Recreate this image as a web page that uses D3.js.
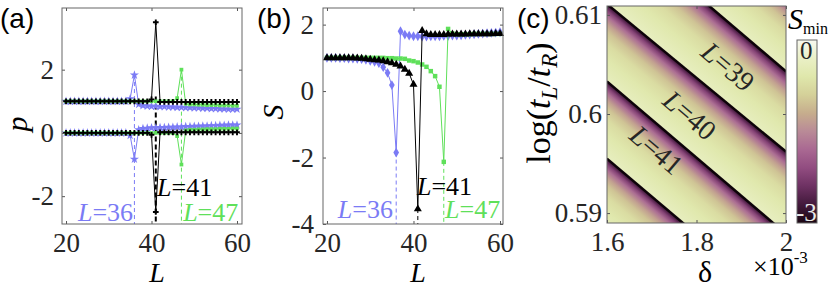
<!DOCTYPE html>
<html>
<head>
<meta charset="utf-8">
<script src="https://cdn.jsdelivr.net/npm/d3@7"></script>
<style>
  body { margin: 0; background: #fff; }
  svg { display: block; }
  .serif { font-family: "Liberation Serif", serif; }
  .sans { font-family: "Liberation Sans", Arial, sans-serif; }
</style>
</head>
<body>
<svg id="fig" width="830" height="290"></svg>
<script>
// ---- data -------------------------------------------------------------
const Ls = [20,21,22,23,24,25,26,27,28,29,30,31,32,33,34,35,36,37,38,39,40,
            41,42,43,44,45,46,47,48,49,50,51,52,53,54,55,56,57,58,59,60];

// (a) p values, two branches per cut length
const pHi36 = [1,1,1,1,1,1,1,1,1,1,1,1,1,1,1,1.08,1.83,0.9,0.86,0.85,0.84,
               0.84,0.83,0.83,0.82,0.82,0.81,0.81,0.8,0.8,0.79,0.79,0.78,0.78,0.77,0.77,0.76,0.76,0.75,0.75,0.75];
const pLo36 = [0,0,0,0,0,0,0,0,0,0,0,0,0,0,0,-0.08,-0.83,0.1,0.14,0.15,0.16,
               0.16,0.17,0.17,0.18,0.18,0.19,0.19,0.2,0.2,0.21,0.21,0.22,0.22,0.23,0.23,0.24,0.24,0.25,0.25,0.25];
const pHi41 = [1,1,1,1,1,1,1,1,1,1,1,1,1,1,1,1,1,1,1,1,1.06,
               3.5,0.98,0.98,0.98,0.98,0.98,0.98,0.98,0.98,0.98,0.98,0.98,0.98,0.98,0.98,0.98,0.98,0.98,0.98,0.98];
const pLo41 = [0,0,0,0,0,0,0,0,0,0,0,0,0,0,0,0,0,0,0,0,-0.06,
               -2.5,0.02,0.02,0.02,0.02,0.02,0.02,0.02,0.02,0.02,0.02,0.02,0.02,0.02,0.02,0.02,0.02,0.02,0.02,0.02];
const pHi47 = [1,1,1,1,1,1,1,1,1,1,1,1,1,1,1,1,1,1,1,1,1,
               1,1,1,1,1,1.1,2.0,0.92,0.9,0.9,0.89,0.89,0.88,0.88,0.88,0.87,0.87,0.87,0.86,0.86];
const pLo47 = [0,0,0,0,0,0,0,0,0,0,0,0,0,0,0,0,0,0,0,0,0,
               0,0,0,0,0,-0.1,-1.0,0.08,0.1,0.1,0.11,0.11,0.12,0.12,0.12,0.13,0.13,0.13,0.14,0.14];

// (b) entanglement S
const S36 = [1,1,1,0.99,0.99,0.98,0.98,0.97,0.96,0.94,0.91,0.88,0.84,0.72,0.55,0.18,-1.85,1.8,1.7,1.67,1.65,
             1.65,1.64,1.64,1.65,1.65,1.65,1.66,1.66,1.67,1.67,1.68,1.69,1.7,1.71,1.72,1.73,1.74,1.75,1.76,1.77];
const S41 = [1,1,1,1,1,1,1,0.99,0.98,0.97,0.95,0.94,0.93,0.91,0.88,0.85,0.8,0.75,0.65,0.53,0.2,
             -3.55,1.82,1.72,1.7,1.7,1.7,1.7,1.71,1.71,1.71,1.71,1.71,1.72,1.72,1.72,1.72,1.72,1.72,1.73,1.73];
const S47 = [1,1,1,1,1,1,1,1,1,1,1,1,1,1,0.99,0.99,0.98,0.98,0.97,0.92,0.9,
             0.86,0.8,0.73,0.6,0.45,0.13,-2.13,1.87,1.73,1.71,1.71,1.71,1.71,1.72,1.72,1.72,1.72,1.72,1.72,1.72];

const cuts = [36, 41, 47];
const cutTopA = [1.83, 1.15, 2.0];
const cutTopB = [-1.85, -3.55, -2.13];
const cutColor = ['#7b7bf5', '#000000', '#5fe05a'];
const labA = [[22.8, -2.8], [41.3, -2.0], [47.4, -2.8]];
const labB = [[22.5, -3.82], [40.8, -3.13], [47.3, -3.82]];

// (c) boundaries of the S_min map: log(tL/tR) at delta = 1.6e-3 and 2.0e-3
const bnd16 = [0.6275, 0.6197, 0.6111, 0.6033, 0.5955, 0.5878];
const bnd20 = [0.6121, 0.6043, 0.5962, 0.5879, 0.5802, 0.5725];
// S_min profile across one band (0 = just below a jump line)
const bandT = [0, 0.03, 0.08, 0.15, 0.25, 0.35, 0.5, 0.7, 1];
const bandS = [-3, -2.6, -2.2, -1.75, -1.3, -1.0, -0.75, -0.58, -0.38];
const labC = [['39', 1.871, 0.6048], ['40', 1.7855, 0.5999], ['41', 1.711, 0.5964]];

// colormap
const cmapV = [0, -0.3, -0.6, -0.9, -1.2, -1.5, -1.8, -2.1, -2.4, -2.7, -3];
const cmapC = ['#f8f9f0','#eaf0c6','#dfe7ab','#d4d099','#c6ad8d','#b98a97',
               '#a96892','#914c80','#6d3162','#42193b','#1b0713'];

// ---- drawing ----------------------------------------------------------
const svg = d3.select('#fig');
const defs = svg.append('defs');
const cmap = d3.scaleLinear().domain(cmapV).range(cmapC);
const fmt = d => String(d);

const styleAxis = sel => {
  sel.attr('font-family', null).attr('font-size', null);
  sel.select('.domain').remove();
  sel.selectAll('.tick line').attr('stroke', '#555');
  sel.selectAll('.tick text')
    .attr('font-family', '"Liberation Serif", serif')
    .attr('font-size', 27).attr('fill', '#262626');
};

const boxAxes = (x, y, xt, yt, padY) => {
  const [x0, x1] = x.range(), [y0, y1] = y.range();
  const g = svg.append('g');
  g.append('g').attr('transform', `translate(0,${y0})`)
    .call(d3.axisBottom(x).tickValues(xt).tickSize(-3).tickPadding(9).tickFormat(fmt))
    .call(styleAxis);
  g.append('g').attr('transform', `translate(0,${y1})`)
    .call(d3.axisTop(x).tickValues(xt).tickSize(-3).tickFormat(''))
    .call(styleAxis);
  g.append('g').attr('transform', `translate(${x0},0)`)
    .call(d3.axisLeft(y).tickValues(yt).tickSize(-3).tickPadding(padY).tickFormat(fmt))
    .call(styleAxis);
  g.append('g').attr('transform', `translate(${x1},0)`)
    .call(d3.axisRight(y).tickValues(yt).tickSize(-3).tickFormat(''))
    .call(styleAxis);
  g.append('rect')
    .attr('x', x0).attr('y', y1).attr('width', x1 - x0).attr('height', y0 - y1)
    .attr('fill', 'none').attr('stroke', '#666').attr('stroke-width', 1);
  return g;
};

const lLabel = (g, x, y, num, color, size = 26) => {
  const t = g.append('text').attr('class', 'serif').attr('x', x).attr('y', y)
    .attr('font-size', size).attr('fill', color);
  t.append('tspan').attr('font-style', 'italic').text('L');
  t.append('tspan').text('=' + num);
  return t;
};

const series = (g, x, y, vals, color, sym, size) => {
  const pts = Ls.map((L, i) => [x(L), y(vals[i])]);
  g.append('path').attr('d', d3.line()(pts))
    .attr('fill', 'none').attr('stroke', color).attr('stroke-width', 1);
  g.selectAll(null).data(pts).enter().append('path')
    .attr('transform', d => `translate(${d[0]},${d[1]})`)
    .attr('d', d3.symbol().type(sym).size(size))
    .attr('fill', color);
};

// ---------- panel (a)
const xA = d3.scaleLinear().domain([19.06, 61.17]).range([62, 242]);
const yA = d3.scaleLinear().domain([-2.88, 3.95]).range([224, 8]);
const gA = svg.append('g');
cuts.forEach((c, i) => {
  gA.append('line')
    .attr('x1', xA(c)).attr('x2', xA(c)).attr('y1', yA(cutTopA[i])).attr('y2', yA(-2.88))
    .attr('stroke', cutColor[i]).attr('stroke-width', i === 1 ? 2 : 1)
    .attr('stroke-dasharray', i === 1 ? '5,3' : '4,3');
});
series(gA, xA, yA, pHi36, cutColor[0], d3.symbolStar, 26);
series(gA, xA, yA, pLo36, cutColor[0], d3.symbolStar, 26);
series(gA, xA, yA, pHi47, cutColor[2], d3.symbolSquare, 14);
series(gA, xA, yA, pLo47, cutColor[2], d3.symbolSquare, 14);
series(gA, xA, yA, pHi41, '#000', d3.symbolCross, 18);
series(gA, xA, yA, pLo41, '#000', d3.symbolCross, 18);
boxAxes(xA, yA, [20, 40, 60], [-2, 0, 2], 8);
cuts.forEach((c, i) => lLabel(gA, xA(labA[i][0]), yA(labA[i][1]), c, cutColor[i]));
svg.append('text').attr('class', 'sans').attr('x', 0).attr('y', 28).attr('font-size', 28).text('(a)');
svg.append('text').attr('class', 'serif').attr('font-style', 'italic').attr('font-size', 30)
  .attr('transform', 'translate(27,124) rotate(-90)').attr('text-anchor', 'middle').text('p');
svg.append('text').attr('class', 'serif').attr('font-style', 'italic').attr('font-size', 28)
  .attr('x', 157).attr('y', 282).attr('text-anchor', 'middle').text('L');

// ---------- panel (b)
const xB = d3.scaleLinear().domain([19.08, 60.69]).range([323, 503]);
const yB = d3.scaleLinear().domain([-4, 2.5]).range([224, 8]);
const gB = svg.append('g');
cuts.forEach((c, i) => {
  gB.append('line')
    .attr('x1', xB(c)).attr('x2', xB(c)).attr('y1', yB(cutTopB[i])).attr('y2', yB(-4))
    .attr('stroke', cutColor[i]).attr('stroke-width', 1).attr('stroke-dasharray', '4,3');
});
series(gB, xB, yB, S36, cutColor[0], d3.symbolDiamond, 28);
series(gB, xB, yB, S47, cutColor[2], d3.symbolSquare, 20);
series(gB, xB, yB, S41, '#000', d3.symbolTriangle, 28);
boxAxes(xB, yB, [20, 40, 60], [-4, -2, 0, 2], 9);
cuts.forEach((c, i) => lLabel(gB, xB(labB[i][0]), yB(labB[i][1]), c, cutColor[i]));
svg.append('text').attr('class', 'sans').attr('x', 257).attr('y', 28).attr('font-size', 28).text('(b)');
svg.append('text').attr('class', 'serif').attr('font-style', 'italic').attr('font-size', 30)
  .attr('transform', 'translate(283,112) rotate(-90)').attr('text-anchor', 'middle').text('S');
svg.append('text').attr('class', 'serif').attr('font-style', 'italic').attr('font-size', 28)
  .attr('x', 418).attr('y', 282).attr('text-anchor', 'middle').text('L');

// ---------- panel (c)
const xC = d3.scaleLinear().domain([1.6, 2.0]).range([607, 786]);
const yC = d3.scaleLinear().domain([0.589, 0.6109]).range([223, 6]);
defs.append('clipPath').attr('id', 'clipC').append('rect')
  .attr('x', 607).attr('y', 6).attr('width', 179).attr('height', 217);
const gC = svg.append('g').attr('clip-path', 'url(#clipC)');

bnd16.slice(0, -1).forEach((u16, k) => {
  const l16 = bnd16[k + 1], u20 = bnd20[k], l20 = bnd20[k + 1];
  const dx = xC(2.0) - xC(1.6), dy = yC(u20) - yC(u16);
  const len = Math.hypot(dx, dy);
  const n = [-dy / len, dx / len];
  const m = [(xC(1.6) + xC(2.0)) / 2, (yC(u16) + yC(u20)) / 2];
  const q = [m[0], (yC(l16) + yC(l20)) / 2];
  const dist = (q[0] - m[0]) * n[0] + (q[1] - m[1]) * n[1];
  const gr = defs.append('linearGradient').attr('id', 'band' + k)
    .attr('gradientUnits', 'userSpaceOnUse')
    .attr('x1', m[0]).attr('y1', m[1])
    .attr('x2', m[0] + n[0] * dist).attr('y2', m[1] + n[1] * dist);
  bandT.forEach((t, j) => gr.append('stop').attr('offset', t).attr('stop-color', cmap(bandS[j])));
  gC.append('path')
    .attr('d', d3.line()([[xC(1.6), yC(u16)], [xC(2.0), yC(u20)], [xC(2.0), yC(l20)], [xC(1.6), yC(l16)]]))
    .attr('fill', `url(#band${k})`).attr('stroke', `url(#band${k})`).attr('stroke-width', 0.5);
});
bnd16.forEach((b, k) => {
  gC.append('line')
    .attr('x1', xC(1.6)).attr('y1', yC(b)).attr('x2', xC(2.0)).attr('y2', yC(bnd20[k]))
    .attr('stroke', '#0d0309').attr('stroke-width', 2.4);
});
const ang = Math.atan2(yC(bnd20[1]) - yC(bnd16[1]), xC(2.0) - xC(1.6)) * 180 / Math.PI;
labC.forEach(d => {
  lLabel(svg, 0, 0, d[0], '#262626', 28)
    .attr('text-anchor', 'middle').attr('dy', '0.35em')
    .attr('transform', `translate(${xC(d[1])},${yC(d[2])}) rotate(${ang})`);
});
boxAxes(xC, yC, [1.6, 1.8, 2.0], [0.59, 0.6, 0.61], 5);
svg.append('text').attr('class', 'sans').attr('x', 517).attr('y', 28).attr('font-size', 28).text('(c)');
const yl = svg.append('text').attr('class', 'serif').attr('font-size', 34)
  .attr('transform', 'translate(550,103) rotate(-90)').attr('text-anchor', 'middle');
yl.append('tspan').text('log(');
yl.append('tspan').attr('font-style', 'italic').text('t');
yl.append('tspan').attr('font-style', 'italic').attr('font-size', 23).attr('dy', 7).text('L');
yl.append('tspan').attr('dy', -7).text('/');
yl.append('tspan').attr('font-style', 'italic').text('t');
yl.append('tspan').attr('font-style', 'italic').attr('font-size', 23).attr('dy', 7).text('R');
yl.append('tspan').attr('dy', -7).text(')');
svg.append('text').attr('class', 'serif').attr('font-size', 30)
  .attr('x', 705).attr('y', 282).attr('text-anchor', 'middle').text('δ');
const ex = svg.append('text').attr('class', 'serif').attr('font-size', 26).attr('x', 753).attr('y', 275);
ex.append('tspan').text('×10');
ex.append('tspan').attr('font-size', 17).attr('dy', -12).text('-3');

// colorbar
const yCb = d3.scaleLinear().domain([0, -3]).range([40, 223]);
const cg = defs.append('linearGradient').attr('id', 'cbar')
  .attr('x1', 0).attr('y1', 0).attr('x2', 0).attr('y2', 1);
cmapV.forEach(v => cg.append('stop').attr('offset', (yCb(v) - 40) / 183).attr('stop-color', cmap(v)));
svg.append('rect').attr('x', 797).attr('y', yCb(0)).attr('width', 20).attr('height', yCb(-3) - yCb(0))
  .attr('fill', 'url(#cbar)').attr('stroke', '#666').attr('stroke-width', 1);
svg.append('text').attr('class', 'serif').attr('font-size', 25).attr('fill', '#262626')
  .attr('x', 800).attr('y', yCb(0) + 19).text('0');
svg.append('text').attr('class', 'serif').attr('font-size', 25).attr('fill', '#e8e8e8')
  .attr('x', 796).attr('y', yCb(-3) - 2).text('-3');
const st = svg.append('text').attr('class', 'serif').attr('x', 788).attr('y', 29);
st.append('tspan').attr('font-style', 'italic').attr('font-size', 30).text('S');
st.append('tspan').attr('font-size', 16).attr('dy', 5).text('min');
</script>
</body>
</html>
